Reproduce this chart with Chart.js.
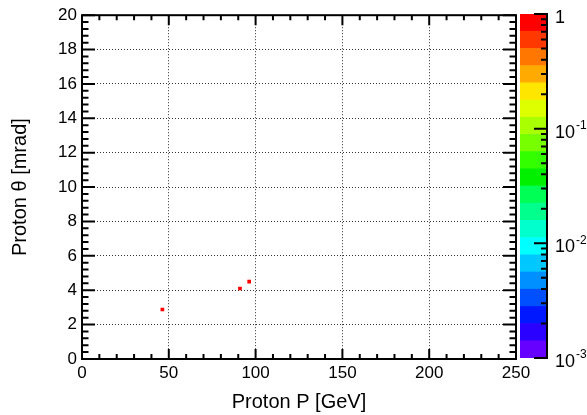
<!DOCTYPE html>
<html>
<head>
<meta charset="utf-8">
<script src="https://cdn.jsdelivr.net/npm/chart.js@4.4.1/dist/chart.umd.min.js"></script>
<style>
  html, body { margin: 0; padding: 0; background: #fff; }
  #wrap { position: relative; width: 587px; height: 415px; }
  #wrap canvas { position: absolute; left: 0; top: 0; }
</style>
</head>
<body>
<div id="wrap">
  <canvas id="hist" width="587" height="415"></canvas>
  <canvas id="palette" width="587" height="415"></canvas>
</div>
<script>
// filled bins of the 2D histogram
const protonP = [46.3, 91.0, 96.3];
const protonTheta = [2.88, 4.1, 4.5];
const binContent = [1, 1, 1];

const xTicks = [0, 50, 100, 150, 200, 250];
const yTicks = [0, 2, 4, 6, 8, 10, 12, 14, 16, 18, 20];
const zTicks = [1e-3, 1e-2, 1e-1, 1];
const zLabels = [["10", "-3"], ["10", "-2"], ["10", "-1"], ["1", ""]];
const zMin = 1e-3;
const zMax = 1;

// colour palette, bottom (low) to top (high)
const paletteColors = [
  "#6600ff", "#2a00ff", "#0018ff", "#0050ff", "#0090ff",
  "#00c8ff", "#00ffff", "#00ffcc", "#00ff8c", "#00ff55",
  "#00f000", "#33ff00", "#77ff00", "#aaff00", "#ddff00",
  "#ffe600", "#ffaa00", "#ff7700", "#ff3800", "#ff0000"
];

const FONT = "'Liberation Sans', Arial, Helvetica, sans-serif";

function zEdge(i) {
  const lmin = Math.log10(zMin);
  const lmax = Math.log10(zMax);
  return Math.pow(10, lmin + (lmax - lmin) * i / paletteColors.length);
}

function colorFor(v) {
  const lmin = Math.log10(zMin);
  const lmax = Math.log10(zMax);
  let idx = Math.floor((Math.log10(v) - lmin) / (lmax - lmin) * paletteColors.length);
  idx = Math.max(0, Math.min(paletteColors.length - 1, idx));
  return paletteColors[idx];
}

// frame + inward ticks like ROOT
const frameTicks = {
  id: "frameTicks",
  afterDatasetsDraw(chart) {
    const { ctx, chartArea: a, scales } = chart;
    const xs = scales.x, ys = scales.y;
    ctx.save();
    ctx.strokeStyle = "#000";
    ctx.lineWidth = 2;
    ctx.beginPath();
    // x ticks: major every 50, minor every 10
    for (let v = 0; v <= 250; v += 10) {
      const px = xs.getPixelForValue(v);
      const len = v % 50 === 0 ? 10 : 5;
      ctx.moveTo(px, a.bottom); ctx.lineTo(px, a.bottom - len);
      ctx.moveTo(px, a.top); ctx.lineTo(px, a.top + len);
    }
    // y ticks: major every 2, minor every 0.4
    for (let k = 0; k <= 50; k++) {
      const v = k * 0.4;
      const py = ys.getPixelForValue(v);
      const len = k % 5 === 0 ? 13 : 6.5;
      ctx.moveTo(a.left, py); ctx.lineTo(a.left + len, py);
      ctx.moveTo(a.right, py); ctx.lineTo(a.right - len, py);
    }
    ctx.stroke();
    ctx.strokeRect(a.left, a.top, a.right - a.left, a.bottom - a.top);
    ctx.restore();
  }
};

new Chart(document.getElementById("hist"), {
  type: "scatter",
  data: {
    datasets: [{
      data: protonP.map((p, i) => ({ x: p, y: protonTheta[i] })),
      pointStyle: "rect",
      pointRadius: 2.6,
      borderWidth: 0,
      backgroundColor: binContent.map(colorFor)
    }]
  },
  options: {
    responsive: false,
    animation: false,
    events: [],
    layout: { padding: { left: 0, right: 71, top: 14, bottom: 0 } },
    plugins: { legend: { display: false }, tooltip: { enabled: false } },
    scales: {
      x: {
        type: "linear",
        min: 0,
        max: 250,
        afterBuildTicks: (s) => { s.ticks = xTicks.map((v) => ({ value: v })); },
        afterFit: (s) => { s.height = 56; },
        ticks: { color: "#000", font: { family: FONT, size: 17 }, padding: 4, maxRotation: 0, autoSkip: false },
        grid: { color: "#333", lineWidth: 1, drawTicks: false },
        border: { display: false, dash: [1, 2] },
        title: {
          display: true,
          text: "Proton P [GeV]",
          color: "#000",
          font: { family: FONT, size: 20 },
          padding: { top: 0, bottom: 1 }
        }
      },
      y: {
        type: "linear",
        min: 0,
        max: 20,
        afterBuildTicks: (s) => { s.ticks = yTicks.map((v) => ({ value: v })); },
        afterFit: (s) => { s.width = 82; },
        ticks: { color: "#000", font: { family: FONT, size: 17 }, padding: 5, autoSkip: false },
        grid: { color: "#333", lineWidth: 1, drawTicks: false },
        border: { display: false, dash: [1, 2] },
        title: {
          display: true,
          text: "Proton \u03b8 [mrad]",
          color: "#000",
          font: { family: FONT, size: 20 },
          padding: { top: 8, bottom: 0 }
        }
      }
    }
  },
  plugins: [frameTicks]
});

// colour bar axis on the right side of the palette
const paletteAxis = {
  id: "paletteAxis",
  afterDraw(chart) {
    const { ctx, chartArea: a } = chart;
    const ys = chart.scales.y;
    const ax = a.right + 1;
    ctx.save();
    ctx.strokeStyle = "#000";
    ctx.lineWidth = 2;
    ctx.beginPath();
    ctx.moveTo(ax, a.top - 1); ctx.lineTo(ax, a.bottom + 1);
    for (let d = -3; d <= 0; d++) {
      const py = ys.getPixelForValue(Math.pow(10, d));
      ctx.moveTo(ax, py); ctx.lineTo(ax - 13, py);
      if (d < 0) {
        for (let k = 2; k <= 9; k++) {
          const pm = ys.getPixelForValue(k * Math.pow(10, d));
          ctx.moveTo(ax, pm); ctx.lineTo(ax - 6, pm);
        }
      }
    }
    ctx.stroke();
    ctx.fillStyle = "#000";
    ctx.textBaseline = "middle";
    ctx.textAlign = "left";
    zTicks.forEach((v, i) => {
      const py = ys.getPixelForValue(v) + 4;
      const [base, sup] = zLabels[i];
      ctx.font = "18px " + FONT;
      const tx = 555;
      ctx.fillText(base, tx, py);
      if (sup) {
        const w = ctx.measureText(base).width;
        ctx.font = "12px " + FONT;
        ctx.fillText(sup, tx + w + 1, py - 7);
      }
    });
    ctx.restore();
  }
};

new Chart(document.getElementById("palette"), {
  type: "bar",
  data: {
    labels: [""],
    datasets: paletteColors.map((c, i) => ({
      data: [[zEdge(i), zEdge(i + 1)]],
      backgroundColor: c,
      borderWidth: 0,
      grouped: false,
      barPercentage: 1,
      categoryPercentage: 1
    }))
  },
  options: {
    responsive: false,
    animation: false,
    events: [],
    layout: { padding: { left: 520, right: 0, top: 14, bottom: 57 } },
    plugins: { legend: { display: false }, tooltip: { enabled: false } },
    scales: {
      x: { display: false },
      y: {
        type: "logarithmic",
        position: "right",
        min: zMin,
        max: zMax,
        afterFit: (s) => { s.width = 41; },
        ticks: { display: false },
        grid: { display: false },
        border: { display: false }
      }
    }
  },
  plugins: [paletteAxis]
});
</script>
</body>
</html>
